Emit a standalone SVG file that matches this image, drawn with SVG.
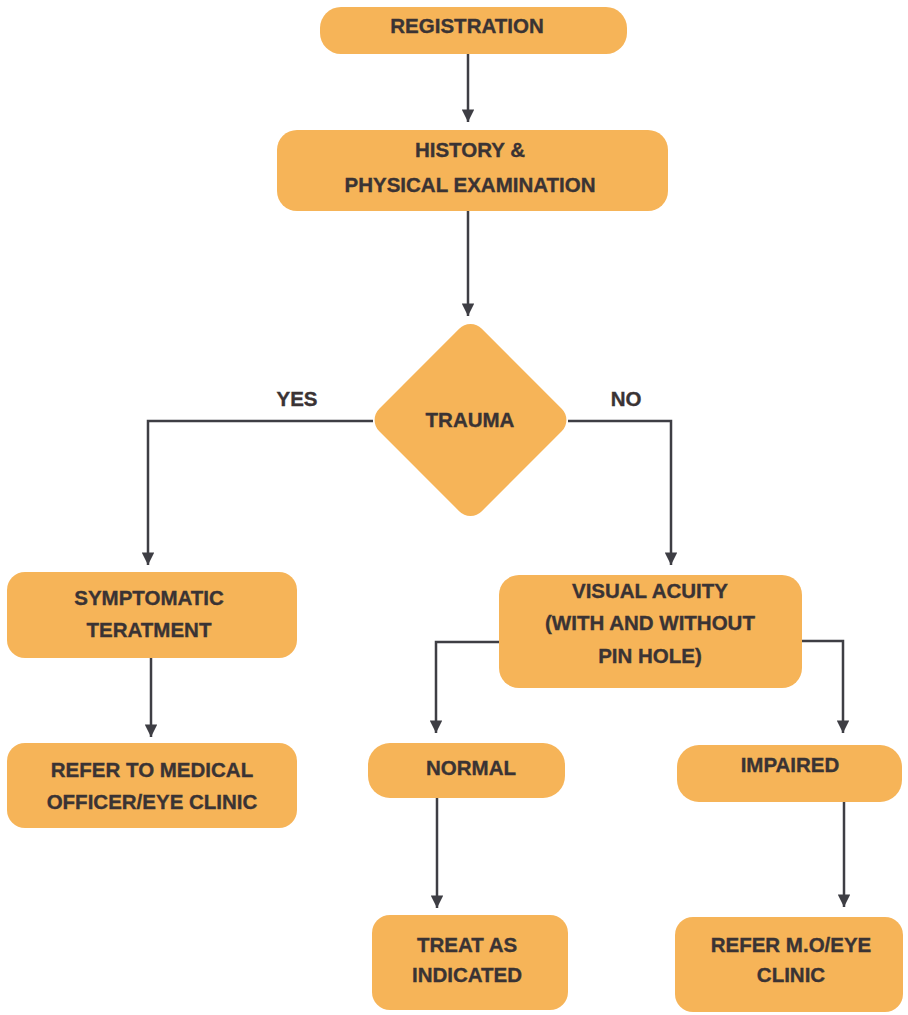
<svg xmlns="http://www.w3.org/2000/svg" width="908" height="1015" viewBox="0 0 908 1015">
<defs>
<style>
.box{fill:#F6B458;}
.t{font-family:"Liberation Sans",Arial,sans-serif;font-weight:bold;font-size:20.5px;fill:#3a3334;stroke:#3a3334;stroke-width:0.35;text-anchor:middle;}
.c{fill:none;stroke:#3e3e44;stroke-width:2.5;}
</style>
<marker id="ah" viewBox="0 0 10 10" refX="10" refY="5" markerWidth="6" markerHeight="5" markerUnits="strokeWidth" orient="auto">
<path d="M0,0 L10,5 L0,10 z" fill="#3e3e44"/>
</marker>
</defs>
<rect width="908" height="1015" fill="#ffffff"/>
<g id="connectors">
<path class="c" d="M468,54 V122" marker-end="url(#ah)"/>
<path class="c" d="M468,211 V316" marker-end="url(#ah)"/>
<path class="c" d="M373,421 H148 V565" marker-end="url(#ah)"/>
<path class="c" d="M568,421 H671 V565" marker-end="url(#ah)"/>
<path class="c" d="M151,658 V737" marker-end="url(#ah)"/>
<path class="c" d="M499,642 H436 V733" marker-end="url(#ah)"/>
<path class="c" d="M802,641 H843 V733" marker-end="url(#ah)"/>
<path class="c" d="M437,798 V908" marker-end="url(#ah)"/>
<path class="c" d="M844,802 V907" marker-end="url(#ah)"/>
<text class="t" x="297" y="406">YES</text>
<text class="t" x="626" y="406">NO</text>
</g>
<g id="registration">
<rect class="box" x="320" y="7" width="307" height="47" rx="21"/>
<text class="t" x="467" y="33">REGISTRATION</text>
</g>
<g id="history">
<rect class="box" x="277" y="130" width="391" height="81" rx="20"/>
<text class="t" x="470" y="157">HISTORY &amp;</text>
<text class="t" x="470" y="192">PHYSICAL EXAMINATION</text>
</g>
<g id="trauma">
<rect class="box" x="-72.5" y="-72.5" width="145" height="145" rx="16" transform="translate(470.5,420) rotate(45)"/>
<text class="t" x="470" y="427">TRAUMA</text>
</g>
<g id="symptomatic">
<rect class="box" x="7" y="572" width="290" height="86" rx="18"/>
<text class="t" x="149" y="605">SYMPTOMATIC</text>
<text class="t" x="149" y="637">TERATMENT</text>
</g>
<g id="refer-medical">
<rect class="box" x="7" y="743" width="290" height="85" rx="18"/>
<text class="t" x="152" y="777">REFER TO MEDICAL</text>
<text class="t" x="152" y="809">OFFICER/EYE CLINIC</text>
</g>
<g id="visual-acuity">
<rect class="box" x="499" y="575" width="303" height="113" rx="20"/>
<text class="t" x="650" y="598">VISUAL ACUITY</text>
<text class="t" x="650" y="630">(WITH AND WITHOUT</text>
<text class="t" x="650" y="663">PIN HOLE)</text>
</g>
<g id="normal">
<rect class="box" x="368" y="743" width="197" height="55" rx="22"/>
<text class="t" x="471" y="775">NORMAL</text>
</g>
<g id="impaired">
<rect class="box" x="677" y="745" width="225" height="57" rx="22"/>
<text class="t" x="790" y="772">IMPAIRED</text>
</g>
<g id="treat">
<rect class="box" x="372" y="915" width="196" height="95" rx="18"/>
<text class="t" x="467" y="952">TREAT AS</text>
<text class="t" x="467" y="982">INDICATED</text>
</g>
<g id="refer-mo">
<rect class="box" x="675" y="917" width="228" height="95" rx="18"/>
<text class="t" x="791" y="952">REFER M.O/EYE</text>
<text class="t" x="791" y="982">CLINIC</text>
</g>
</svg>
